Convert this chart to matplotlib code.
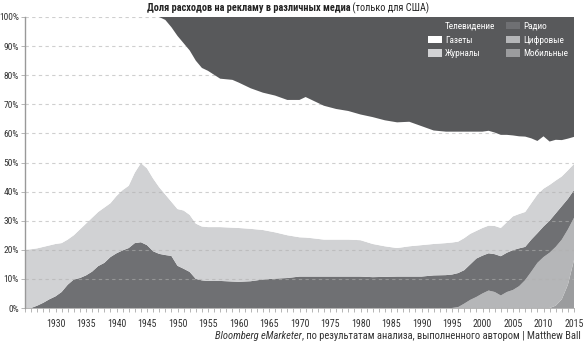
import matplotlib
matplotlib.use("Agg")
import matplotlib.pyplot as plt
from matplotlib.patches import Patch
from matplotlib.ticker import MultipleLocator, FuncFormatter

plt.rcParams['font.family'] = ['Roboto Condensed', 'PT Sans Narrow', 'Fira Sans Condensed',
                               'Archivo Narrow', 'DejaVu Sans']

years = [1925, 1926, 1927, 1928, 1929, 1930, 1931, 1932, 1933, 1934, 1935, 1936,
         1937, 1938, 1939, 1940, 1941, 1942, 1943, 1944, 1945, 1946, 1947, 1948,
         1949, 1950, 1951, 1952, 1953, 1954, 1955, 1957, 1959, 1960, 1962, 1964,
         1966, 1968, 1970, 1971, 1972, 1974, 1976, 1978, 1980, 1982, 1984, 1986,
         1988, 1990, 1992, 1994, 1995, 1996, 1997, 1998, 1999, 2000, 2001, 2002,
         2003, 2004, 2005, 2006, 2007, 2008, 2009, 2010, 2011, 2012, 2013, 2014,
         2015]

# share of ad spend, %
mobile = [0] * 69 + [0.8, 3.0, 8.0, 16.5]

digital = [0] * 52 + [0, 0.3, 1.5, 2.8, 3.8, 5.0, 6.0, 5.5, 4.3, 5.5, 6.2, 7.5,
                      9.6, 12.5, 15.5, 17.5, 19.0, 20.2, 20.5, 19.0, 14.5]

radio = [0, 0, 0.8, 1.8, 3.0, 4.0, 5.5, 8.0, 9.8, 10.3, 11.2, 12.5,
         14.4, 15.5, 17.5, 18.8, 19.8, 20.6, 22.3, 22.6, 21.6, 19.5, 18.6, 18.2,
         17.9, 14.5, 13.5, 12.4, 10.0, 9.5, 9.3, 9.3, 9.1, 9.0, 9.2, 9.8,
         10.1, 10.3, 10.8, 10.8, 10.8, 10.8, 10.8, 10.8, 10.8, 10.6, 10.7, 10.8,
         10.8, 10.8, 11.2, 11.3, 11.5, 11.7, 11.5, 12.2, 13.2, 13.0, 12.8, 13.0,
         13.5, 13.5, 13.7, 13.0, 11.4, 11.0, 10.2, 10.5, 11.0, 11.5, 11.5, 10.5,
         9.5]

magazines = [20.0, 20.2, 19.7, 19.2, 18.5, 18.0, 16.8, 15.5, 15.2, 16.7, 17.8, 18.5,
             18.6, 19.0, 18.5, 19.7, 20.7, 21.4, 24.2, 27.2, 26.4, 25.0, 22.9, 20.8,
             18.6, 19.5, 20.0, 19.6, 19.0, 18.5, 18.5, 18.5, 18.5, 18.5, 18.0, 17.0,
             15.9, 14.7, 13.5, 13.4, 13.2, 12.7, 12.7, 12.7, 12.5, 11.4, 10.5, 9.8,
             10.4, 10.8, 10.8, 11.0, 11.0, 10.8, 11.0, 10.5, 9.5, 9.5, 9.5, 9.7,
             9.7, 10.5, 11.6, 11.8, 12.0, 12.5, 13.3, 13.0, 12.3, 11.3, 10.2, 9.8,
             9.0]

newspapers = [80.0, 79.8, 79.5, 79.0, 78.5, 78.0, 77.7, 76.5, 75.0, 73.0, 71.0, 69.0,
              67.0, 65.5, 64.0, 61.5, 59.5, 58.0, 53.5, 50.2, 52.0, 55.5, 58.5, 60.0,
              60.0, 59.5, 57.5, 56.5, 56.0, 54.5, 53.7, 51.0, 50.8, 50.0, 48.3, 47.2,
              47.0, 46.5, 47.2, 48.3, 47.5, 46.0, 44.9, 44.2, 43.2, 43.6, 43.3, 43.2,
              42.8, 40.9, 39.0, 38.3, 38.1, 37.8, 36.6, 35.1, 34.1, 33.1, 32.6, 32.1,
              32.0, 30.0, 27.8, 26.7, 25.9, 22.3, 18.4, 18.0, 14.9, 14.0, 12.5, 10.9,
              9.3]

tv = [0] * 23 + [1.0, 3.5, 6.5, 9.0, 11.5, 15.0, 17.5, 18.5, 21.2, 21.6, 22.5, 24.5,
                 26.0, 27.0, 28.5, 28.5, 27.5, 28.5, 30.5, 31.6, 32.3, 33.5, 34.4, 35.5,
                 36.2, 36.0, 37.5, 39.0, 39.4, 39.4, 39.4, 39.4, 39.4, 39.4, 39.4, 39.1,
                 39.7, 40.5, 40.5, 40.7, 41.0, 41.1, 41.7, 42.6, 41.0, 42.8, 42.2, 42.3,
                 41.8, 41.2]

labels = ['Мобильные', 'Цифровые', 'Радио', 'Журналы', 'Газеты', 'Телевидение']
colors = ['#9b9c9e', '#b5b6b8', '#6f7073', '#d1d2d4', '#ffffff', '#58595b']

fig = plt.figure(figsize=(5.84, 3.45), dpi=100)
ax = fig.add_axes([25 / 584, 1 - 308 / 345, 549 / 584, 291 / 345])

polys = ax.stackplot(years, mobile, digital, radio, magazines, newspapers, tv,
                     colors=colors, linewidth=0, zorder=1)
polys[-1].set_zorder(3)

ax.set_xlim(1925, 2015)
ax.set_ylim(0, 100)

ax.yaxis.grid(True, color='#b0b0b0', alpha=0.6, linestyle=(0, (3, 3)), linewidth=0.8, zorder=2)
ax.set_axisbelow(False)

ax.xaxis.set_minor_locator(MultipleLocator(1))
ax.set_xticks(range(1930, 2016, 5))
ax.yaxis.set_major_locator(MultipleLocator(10))
ax.yaxis.set_major_formatter(FuncFormatter(lambda v, p: f"{int(v)}%"))

ax.tick_params(axis='x', which='both', length=3, width=0.6, color='#aaaaaa',
               labelsize=7.1, labelcolor='#333333', pad=5)
ax.tick_params(axis='y', length=3, width=0.6, color='#aaaaaa',
               labelsize=6.8, labelcolor='#333333', pad=1.5)

for s in ['top', 'right']:
    ax.spines[s].set_visible(False)
ax.spines['left'].set_color('#999999')
ax.spines['left'].set_linewidth(1.0)
ax.spines['bottom'].set_color('#aaaaaa')
ax.spines['bottom'].set_linewidth(0.6)
ax.spines['left'].set_zorder(4)

order = [5, 4, 3, 2, 1, 0]
handles = [Patch(facecolor=colors[i], edgecolor='none') for i in order]
leg = ax.legend(handles, [labels[i] for i in order], ncol=2, loc='upper left',
                bbox_to_anchor=(403 / 549, (308 - 22) / 291), frameon=False,
                fontsize=6.7, labelcolor='white', handlelength=1.55, handleheight=0.85,
                handletextpad=0.3, labelspacing=0.5, columnspacing=1.1,
                borderpad=0, borderaxespad=0)
leg.set_zorder(5)

# title and source, mixed styles
W = 584.0
fig.canvas.draw()
r = fig.canvas.get_renderer()
t1 = fig.text(0, 1 - 8 / 345, 'Доля расходов на рекламу в различных медиа',
              fontsize=7.4, weight='bold', color='#222222', va='center')
t2 = fig.text(0, 1 - 8 / 345, ' (только для США)', fontsize=7.4,
              color='#222222', va='center')
w1 = t1.get_window_extent(r).width
w2 = t2.get_window_extent(r).width
x0 = 288 - (w1 + w2) / 2
t1.set_x(x0 / W)
t2.set_x((x0 + w1) / W)

s2 = fig.text(581 / W, 1 - 336 / 345,
              ', по результатам анализа, выполненного автором | Matthew Ball',
              fontsize=7.6, color='#333333', ha='right', va='center')
ws2 = s2.get_window_extent(r).width
fig.text((581 - ws2) / W, 1 - 336 / 345, 'Bloomberg eMarketer', fontsize=7.6,
         style='italic', color='#333333', ha='right', va='center')

fig.savefig('out.png', dpi=100)
